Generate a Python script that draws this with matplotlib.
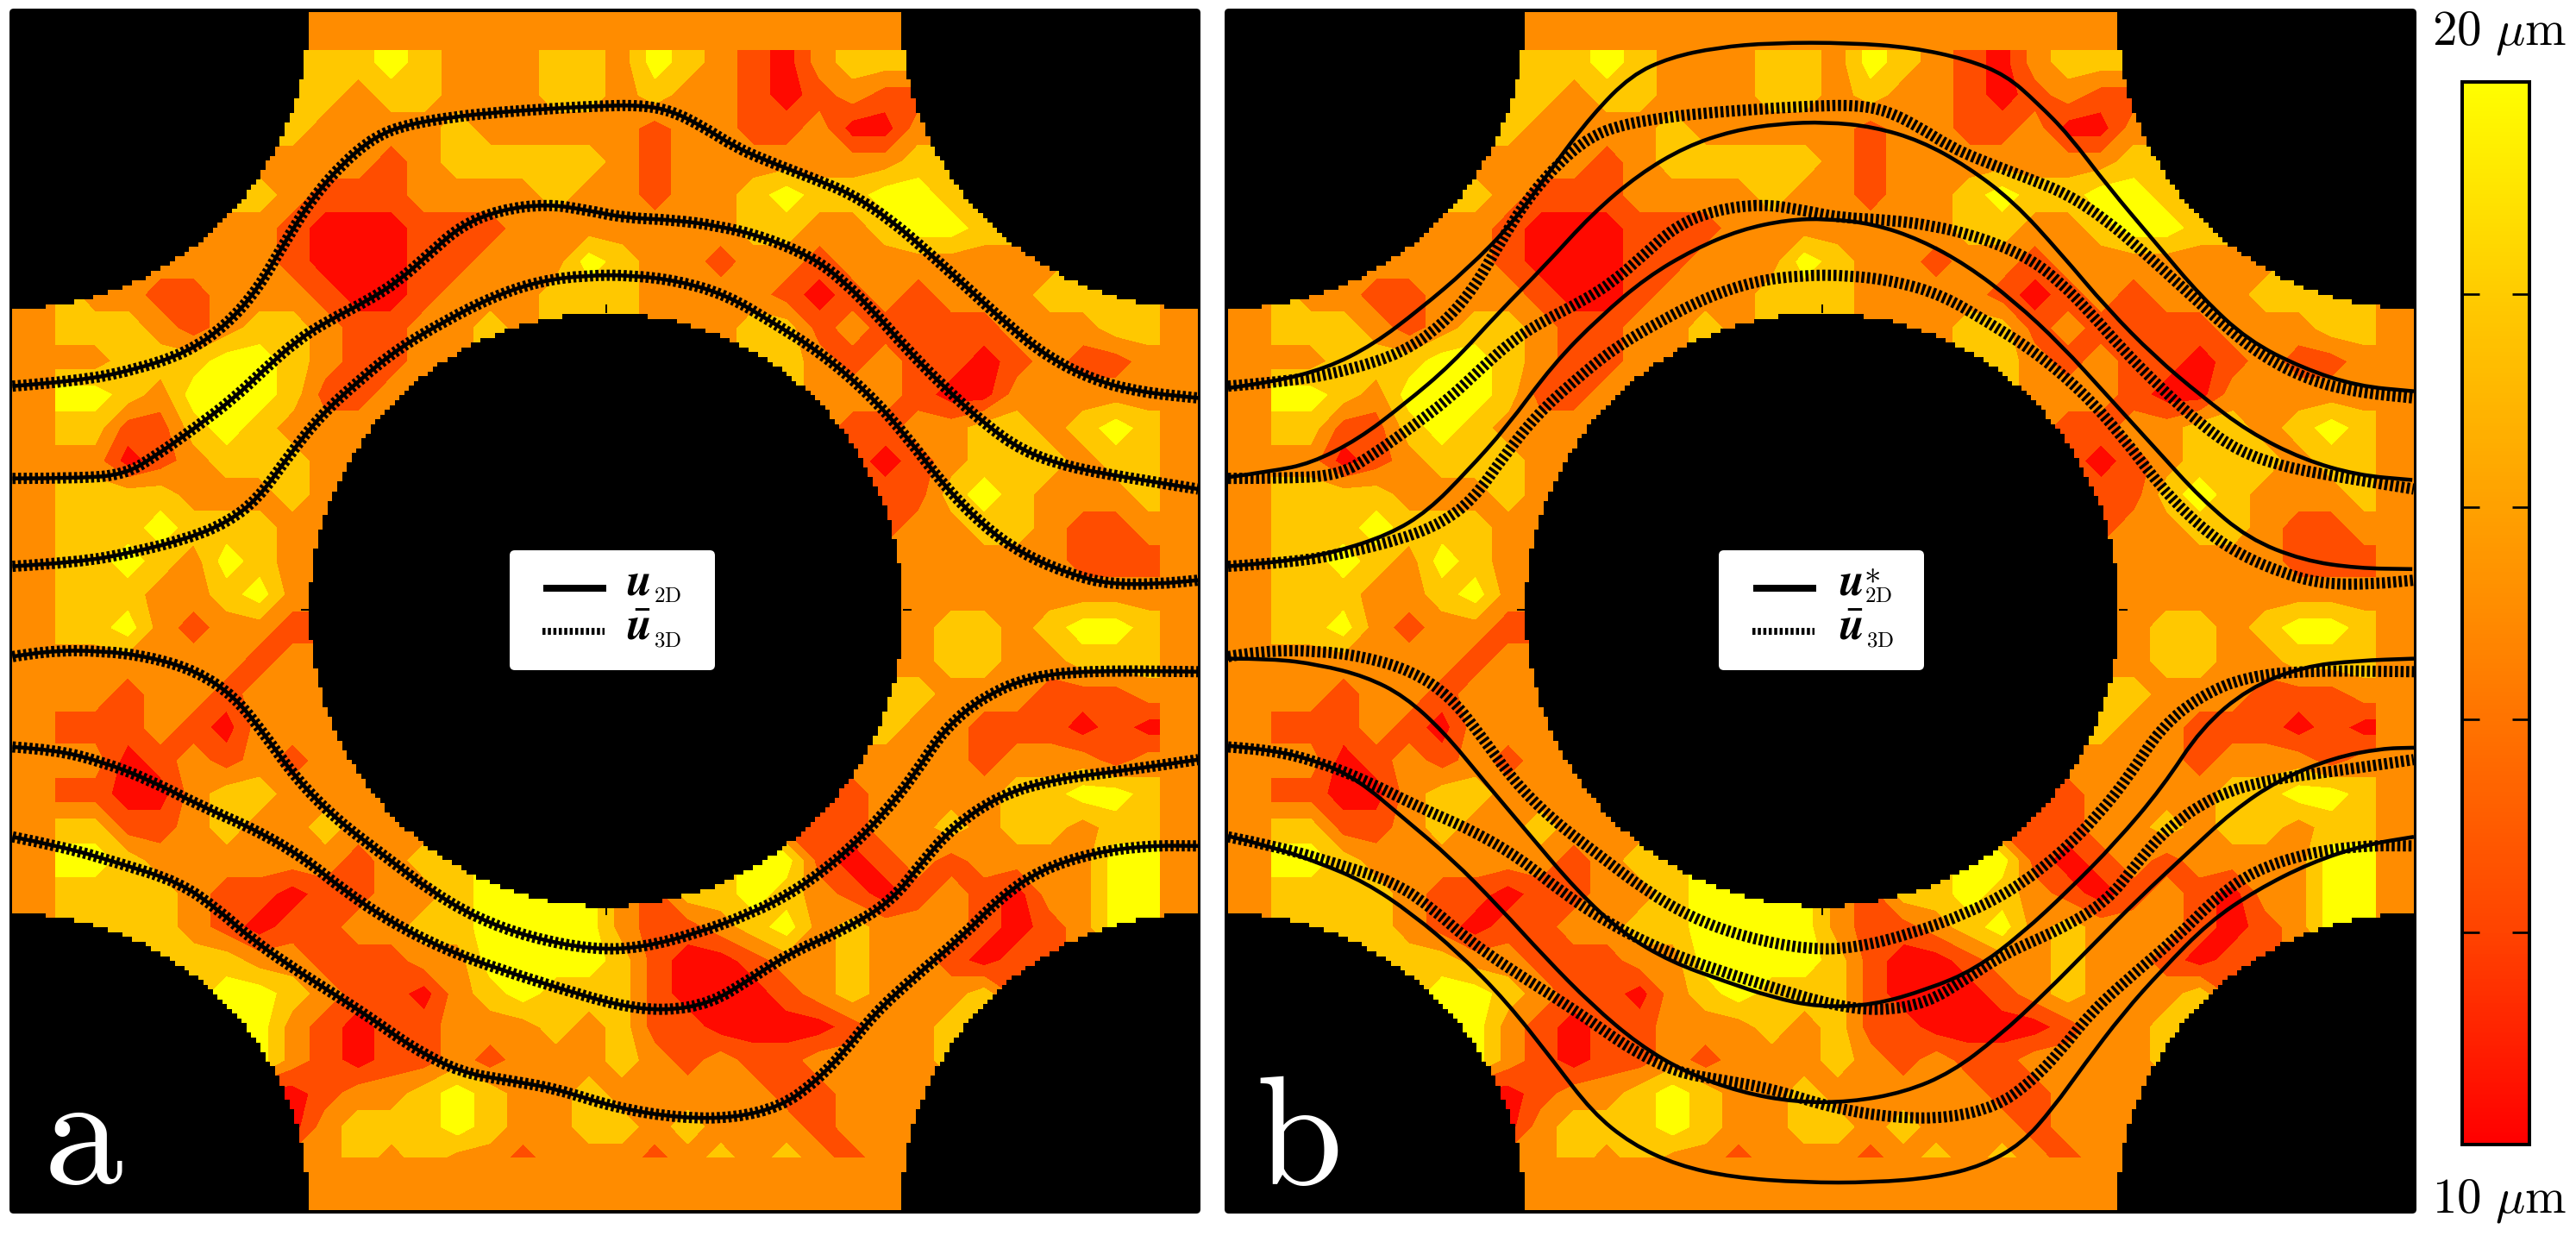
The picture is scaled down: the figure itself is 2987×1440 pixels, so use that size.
import matplotlib
matplotlib.use("Agg")
import matplotlib.pyplot as plt
import numpy as np
from matplotlib.colors import LinearSegmentedColormap, to_rgba
from matplotlib.lines import Line2D
from matplotlib.patches import FancyBboxPatch, PathPatch
from matplotlib.path import Path

W, H = 2987, 1440

## film thickness, 36x36 cells, as bin numbers 1..5
bin_centres = [None, 11, 13, 15, 17, 19]   ## um
bin_edges = [10, 12, 14, 16, 18, 20]
bin_colours = ["#ff0a00", "#ff4d00", "#ff8c00", "#ffc800", "#ffff00"]
bar_ticks = [12, 14, 16, 18]
thickness_bins = [
    [3]*36,
    [3]*9 + [4,4,5,4,3,3,3,4,4,3,5,4,3,2,1,3,4,4] + [3]*9,
    [3]*8 + [4,4,3,4,4,3,3,3,4,4,3,4,3,3,2,1,2,3,2,3] + [3]*8,
    [3]*8 + [4,3,3,3,3,4,3,3,3,3,3,2,3,3,2,2,3,1,1,3] + [3]*8,
    [3]*7 + [4,3,3,3,2,3,4,4,4,4,4,3,2,3,3,3,3,3,3,3,4,4] + [3]*7,
    [3]*6 + [4,4,3,2,2,2,3,3,3,3,4,3,3,2,3,3,4,5,4,4,5,5,4,4] + [3]*6,
    [3]*5 + [3,3,3,2,1,1,1,2,2,2,3,3,3,3,3,3,3,4,4,3,3,4,5,5,4,3] + [3]*5,
    [3]*4 + [3,3,3,3,2,1,1,1,2,2,3,3,3,5,4,3,3,2,3,3,2,3,3,3,3,3,3] + [3]*5,
    [3]*2 + [4,3,2,2,3,3,3,2,1,1,2,3,3,3,4,4,4,3,3,3,3,2,1,2,3,2,3,3,3,4,4] + [3]*3,
    [3,3,4,4,3,2,3,4,4,3,2,2,3,3,4] + [3]*7 + [4,4,2,3,2,2,2,2,3,3,3,4,4,3],
    [3,3,3,4,4,4,5,5,4,3,2,2,3,4] + [3]*9 + [4,3,2,3,2,2,1,2,3,2,2,3,3],
    [3,3,5,4,3,5,5,5,4,2,2,3,4] + [3]*11 + [3,3,3,2,1,1,3,3,3,3,3,3],
    [3,3,4,2,2,4,5,4,3,3,3] + [3]*14 + [2,2,3,3,4,4,3,4,5,4,3],
    [3,3,3,1,2,3,4,4,4,3,4] + [3]*14 + [2,1,2,3,4,4,4,3,4,4,3],
    [3,3,4,4,4,3,3,3,4,3] + [3]*16 + [2,2,4,5,4,3,3,3,4,3],
    [3,3,4,4,5,4,4,4,3,3] + [3]*17 + [3,3,4,4,3,2,2,3,3],
    [3,3,4,5,4,3,5,4,3,2] + [3]*17 + [3,3,3,3,3,2,2,2,3],
    [3,3,4,4,3,3,4,5,3,2] + [3]*17 + [3]*9,
    [3,3,4,5,3,2,3,3,2,2] + [3]*17 + [3,4,4,3,4,5,5,4,3],
    [3,3,3,3,3,3,3,2,3,3] + [3]*17 + [3,4,4,3,3,4,4,4,3],
    [3,3,3,2,3,3,2,3,3,4] + [3]*16 + [4,4,3,3,3,2,2,2,3,3],
    [3,3,2,2,3,2,1,3,3,3,4] + [3]*15 + [4,3,3,2,2,2,1,2,1,3],
    [3,3,3,1,2,3,2,3,2,3,3,3] + [3]*13 + [3,3,3,3,2,3,3,3,2,3,3],
    [3,3,2,1,1,3,4,4,3,3,3,3,4] + [3]*11 + [3,2,3,3,3,3,4,4,5,5,4,3],
    [3,3,4,2,2,3,4,3,3,4,3,3,3,4] + [3]*9 + [4,2,2,3,3,4,3,4,4,3,4,4,3],
    [3,3,5,4,3,3,3,3,3,3,2,3,4,4,4] + [3]*7 + [5,5,2,1,2,3,2,3,3,3,3,5,5,3],
    [3,3,4,4,4,3,2,2,1,2,2,3,3,4,5] + [4]*6 + [4,5,4,3,2,1,2,3,2,1,3,3,5,5,3],
    [3]*3 + [4,4,3,2,1,2,2,3,3,4,4,5,5,5,5,3,2,2,3,4,5,3,4,3,3,3,2,1,2,3] + [3]*3,
    [3]*5 + [4,4,3,3,2,2,2,3,3,5,5,5,5,4,2,1,1,2,3,3,4,3,3,2,1,2,3] + [3]*4,
    [3]*6 + [5,5,4,3,2,2,1,3,4,5,4,4,4,2,1,1,1,2,3,4,3,3,3,4] + [3]*6,
    [3]*7 + [5,3,2,1,2,2,3,3,3,4,3,4,2,2,1,1,1,1,2,3,3,4] + [3]*7,
    [3]*8 + [3,2,1,2,2,3,2,3,3,3,4,3,2,3,2,2,3,3,3,3] + [3]*8,
    [3]*8 + [1,2,3,3,4,5,4,3,3,4,3,3,3,3,3,2,2,3,3,3] + [3]*8,
    [3]*8 + [1,3,4,4,4,5,4,3,3,4,4,3,4,3,3,3,2,3,3,3] + [3]*8,
    [3]*9 + [3,4,3,4,3,3,2,3,3,3,2,3,4,3,4,3,2,3] + [3]*9,
    [3]*36,
]

## streamlines as read off the enlarged crops of the picture
## x: crop x of panel; upper lines: crop y of the top half, lower: crop y of the bottom half
mean3d_1x = [16,100,170,240,290,330,365,400,440,480,520,580,640,700,760,820,860,900,940,980,1040,1090,1140,1190,1240,1290,1340,1400,1460,1534]
mean3d_1y = [975,962,935,890,820,730,610,500,410,345,315,295,283,275,268,265,280,320,370,405,450,490,555,640,730,820,900,960,990,1005]
mean3d_2x = [16,100,160,200,250,300,340,380,420,470,510,550,590,640,700,750,800,860,920,980,1040,1080,1120,1160,1210,1260,1310,1370,1440,1534]
mean3d_2y = [1208,1208,1198,1150,1080,1005,930,860,810,760,710,640,570,530,515,530,550,555,570,600,650,710,790,880,980,1070,1140,1180,1205,1235]
mean3d_3x = [16,100,170,240,290,330,370,410,460,510,570,630,690,750,810,870,930,990,1050,1110,1160,1210,1260,1310,1370,1420,1480,1534]
mean3d_3y = [1430,1420,1395,1360,1320,1260,1150,1050,960,880,810,750,710,695,695,710,745,815,890,990,1100,1230,1330,1400,1450,1475,1475,1465]
mean3d_4x = [16,60,130,190,250,300,340,380,430,490,550,610,680,760,820,890,960,1020,1080,1130,1170,1210,1260,1320,1400,1534]
mean3d_4y = [90,75,75,90,125,190,290,400,500,590,680,750,800,830,825,790,740,680,590,490,390,270,190,140,125,128]
mean3d_5x = [16,70,130,190,260,330,390,440,500,570,640,720,790,850,910,960,1010,1080,1140,1180,1220,1280,1350,1430,1534]
mean3d_5y = [318,325,355,400,470,530,600,680,760,830,880,930,970,985,965,905,840,780,710,610,520,440,400,380,350]
mean3d_6x = [16,80,150,230,280,320,370,430,480,530,590,650,710,790,870,940,1000,1040,1080,1120,1170,1230,1280,1330,1400,1470,1534]
mean3d_6y = [545,570,610,660,730,800,870,945,1010,1080,1140,1160,1180,1230,1255,1255,1225,1170,1090,990,900,800,700,630,585,567,568]

exact2d_1x = [4,60,130,190,250,310,370,420,470,520,570,630,700,800,880,950,1000,1040,1080,1130,1190,1250,1310,1380,1450,1522]
exact2d_1y = [980,965,930,870,780,680,560,420,290,190,145,120,108,108,120,150,190,260,340,470,610,750,860,930,975,988]
exact2d_2x = [4,60,110,170,230,290,350,410,470,530,590,650,710,770,830,890,950,1010,1070,1130,1190,1250,1310,1380,1450,1520]
exact2d_2y = [1205,1190,1170,1110,1020,920,790,670,540,440,370,330,312,308,320,355,420,510,640,780,900,1000,1090,1160,1200,1212]
exact2d_3x = [4,70,140,210,260,310,360,420,480,540,600,660,720,770,830,890,950,1010,1070,1130,1190,1250,1310,1380,1450,1520]
exact2d_3y = [1430,1420,1395,1350,1290,1190,1080,920,800,700,630,580,555,552,565,605,670,760,870,1000,1130,1260,1360,1415,1435,1437]
exact2d_4x = [4,60,120,180,230,280,330,390,450,510,570,640,700,760,830,900,960,1020,1080,1140,1200,1250,1310,1380,1450,1522]
exact2d_4y = [95,95,110,140,190,280,400,540,680,790,860,910,950,975,970,930,880,790,680,560,420,270,170,115,100,95]
exact2d_5x = [4,60,120,170,230,290,350,410,470,530,590,660,730,800,870,930,990,1050,1110,1170,1230,1290,1350,1420,1480,1522]
exact2d_5y = [315,325,355,400,500,600,720,850,970,1070,1140,1190,1215,1215,1190,1140,1050,940,820,700,590,480,400,345,322,320]
exact2d_6x = [4,60,120,180,240,300,360,420,470,520,580,650,740,830,910,970,1020,1060,1100,1150,1200,1260,1320,1390,1460,1522]
exact2d_6y = [543,570,610,660,740,840,960,1110,1240,1320,1375,1405,1418,1418,1405,1375,1320,1230,1120,990,880,760,680,610,565,545]

mean3d = [(mean3d_1x, mean3d_1y), (mean3d_2x, mean3d_2y), (mean3d_3x, mean3d_3y),
          (mean3d_4x, mean3d_4y), (mean3d_5x, mean3d_5y), (mean3d_6x, mean3d_6y)]
exact2d = [(exact2d_1x, exact2d_1y), (exact2d_2x, exact2d_2y), (exact2d_3x, exact2d_3y),
           (exact2d_4x, exact2d_4y), (exact2d_5x, exact2d_5y), (exact2d_6x, exact2d_6y)]

DW, DH = 1375, 1389    ## domain size, px
R = 344                ## pillar radius, px
lw_px = 72/100         ## one pixel in points at dpi 100


def px_axes(fig, x0, y0, x1, y1):     ## axes from pixel corners, y down
    return fig.add_axes([x0/W, 1-y1/H, (x1-x0)/W, (y1-y0)/H])


def to_domain(line, crop_x0, index):   ## crop coordinates -> domain pixels
    x = (np.array(line[0])-crop_x0)/1.104
    if index < 3:
        y = (np.array(line[1])-30)/2.178
    else:
        y = np.array(line[1])/2.178+706.2
    return x, y


def pillars(X, Y):
    solid = np.hypot(X-689, Y-693) < R
    for cx in (0, DW):
        for cy in (0, DH):
            solid |= np.hypot(X-cx, Y-cy) < R
    return solid


def overlay_image():    ## black pillars and the orange band, on the sim grid
    n_x, n_y = 248, 250
    X, Y = np.meshgrid((np.arange(n_x)+0.5)*DW/n_x, (np.arange(n_y)+0.5)*DH/n_y)
    img = np.zeros((n_y, n_x, 4))
    band = (Y < 46) | (Y > 1326) | (X < 51) | (X > 1329)
    img[band] = to_rgba(bin_colours[2])
    img[pillars(X, Y)] = (0, 0, 0, 1)
    return img


def field_values(cx, cy):
    ## cells that are hidden under pillars or band take the nearest visible cell,
    ## so the contours do not bend towards a filler value at the edges
    vals = np.array([[bin_centres[b] for b in row] for row in thickness_bins], dtype=float)
    X, Y = np.meshgrid(cx, cy)
    hidden = pillars(X, Y) | (Y < 45) | (Y > 1340) | (X < 60) | (X > 1335)
    vis_y, vis_x = np.nonzero(~hidden)
    for r, c in zip(*np.nonzero(hidden)):
        k = np.argmin((vis_y-r)**2+(vis_x-c)**2)
        vals[r, c] = vals[vis_y[k], vis_x[k]]
    return vals


def smooth_path(x, y):      ## quadratic curve through the midpoints of the read points
    pts = np.column_stack([x, y])
    verts = [pts[0]]
    codes = [Path.MOVETO]
    for i in range(1, len(pts)-1):
        verts += [pts[i], (pts[i]+pts[i+1])/2]
        codes += [Path.CURVE3, Path.CURVE3]
    verts.append(pts[-1])
    codes.append(Path.LINETO)
    return Path(verts, codes)


def draw_panel(fig, x0, y0, solids, dashes, solid_crop_x0):
    ax = px_axes(fig, x0, y0, x0+DW, y0+DH)
    cell_x = (np.arange(36)+0.5)*DW/36
    cell_y = (np.arange(36)+0.5)*DH/36
    ax.contourf(cell_x, cell_y, field_values(cell_x, cell_y), levels=bin_edges, colors=bin_colours)
    ax.imshow(overlay_image(), extent=[0, DW, DH, 0], interpolation="nearest", aspect="auto", zorder=2)
    for i, line in enumerate(dashes):
        x, y = to_domain(line, 16, i)
        ax.add_patch(PathPatch(smooth_path(x, y), fc="none", ec="k", lw=13*lw_px, ls=(0, (0.27, 0.23)),
                               capstyle="butt", zorder=3))
    for i, line in enumerate(solids):
        x, y = to_domain(line, solid_crop_x0, i)
        ax.add_patch(PathPatch(smooth_path(x, y), fc="none", ec="k", lw=4.5*lw_px, capstyle="butt", zorder=4))
    ## small ticks on the central pillar
    ax.plot([689, 689], [693-R-5, 693+R+5], ls="", marker="|", ms=10*lw_px, mew=2*lw_px, color="k", zorder=3)
    ax.plot([689-R-5, 689+R+5], [693, 693], ls="", marker="_", ms=10*lw_px, mew=2*lw_px, color="k", zorder=3)
    ax.set_xlim(0, DW)
    ax.set_ylim(DH, 0)
    ax.axis("off")
    return ax


fig = plt.figure(figsize=(W/100, H/100), dpi=100, facecolor="white")

bg = fig.add_axes([0, 0, 1, 1], zorder=0)
bg.set_xlim(0, W)
bg.set_ylim(H, 0)
bg.axis("off")
for x0, x1 in ((11, 1392), (1420, 2802)):
    bg.add_patch(FancyBboxPatch((x0+4, 14), x1-x0-8, 1389, boxstyle="round,pad=4,rounding_size=5", fc="k", ec="none"))

draw_panel(fig, 14.5, 13.8, mean3d, mean3d, 16).set_zorder(1)
draw_panel(fig, 1424, 13.8, exact2d, mean3d, 4).set_zorder(1)

## colour bar
cax = px_axes(fig, 2855, 95, 2933, 1327)
bar_cmap = LinearSegmentedColormap.from_list("thick", [(0, "#ff0000"), (0.2, "#ff4400"), (0.5, "#ff8c00"),
                                                       (0.8, "#ffcb00"), (1, "#ffff00")])
cax.imshow(np.linspace(10, 20, 256)[:, None], origin="lower", extent=[0, 1, 10, 20], aspect="auto", cmap=bar_cmap)
cax.set_xticks([])
cax.set_yticks(bar_ticks)
cax.set_yticklabels([])
cax.tick_params(axis="y", direction="in", left=True, right=True, length=20*lw_px, width=2.7*lw_px)
for s in cax.spines.values():
    s.set_linewidth(4*lw_px)

## everything on top, in pixel coordinates
fg = fig.add_axes([0, 0, 1, 1], zorder=5)
fg.set_xlim(0, W)
fg.set_ylim(H, 0)
fg.axis("off")
fg.patch.set_alpha(0)

fg.text(2820, 52, r"$20\ \mu\mathrm{m}$", fontsize=41, math_fontfamily="cm", va="baseline")
fg.text(2820, 1405, r"$10\ \mu\mathrm{m}$", fontsize=41, math_fontfamily="cm", va="baseline")
fg.text(50, 1372, r"$\mathrm{a}$", fontsize=132, color="w", math_fontfamily="cm", va="baseline")
fg.text(1456, 1373, r"$\mathrm{b}$", fontsize=130, color="w", math_fontfamily="cm", va="baseline")

## legend boxes
for lx, star in ((591, False), (1993, True)):
    fg.add_patch(FancyBboxPatch((lx+4, 642), 230, 131, boxstyle="round,pad=4,rounding_size=6", fc="w", ec="none"))
    kx = lx+39+(1 if star else 0)
    fg.add_line(Line2D([kx, kx+73], [682, 682], color="k", lw=8*lw_px, solid_capstyle="butt"))
    fg.add_line(Line2D([kx-1, kx+71], [732, 732], color="k", lw=8*lw_px, ls=(0, (0.44, 0.35))))
    ux = lx+135+(4 if star else 0)
    fg.text(ux, 690, r"$\mathbfit{u}$", fontsize=38, math_fontfamily="stix", va="baseline")
    fg.text(ux, 742, r"$\bar{\mathbfit{u}}$", fontsize=38, math_fontfamily="stix", va="baseline")
    fg.text(ux+(30 if star else 32), 698, r"$\mathrm{2D}$", fontsize=18, math_fontfamily="cm", va="baseline")
    fg.text(ux+32, 749, r"$\mathrm{3D}$", fontsize=18, math_fontfamily="cm", va="baseline")
    if star:
        fg.text(ux+38, 665, r"$\ast$", fontsize=28, math_fontfamily="cm", ha="center", va="center")

fig.savefig("out.png", dpi=100)
